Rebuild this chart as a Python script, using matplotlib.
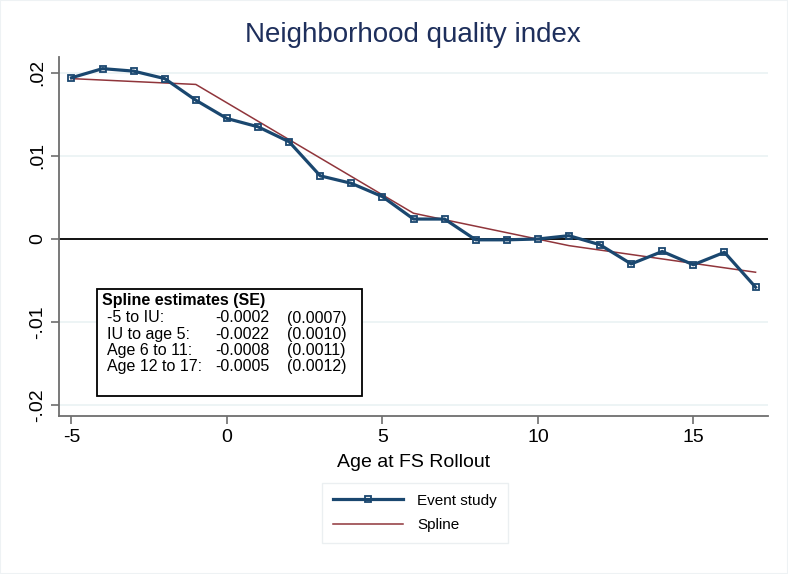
import matplotlib
matplotlib.use("Agg")
import matplotlib.pyplot as plt
from matplotlib.patches import Rectangle

ages = list(range(-5, 18))
event_study = [0.0194, 0.0205, 0.0202, 0.0193, 0.0167, 0.0145, 0.0135, 0.0117,
               0.0076, 0.0067, 0.0051, 0.0024, 0.0024, -0.0001, -0.0001, 0.0000,
               0.0004, -0.0007, -0.0030, -0.0015, -0.0031, -0.0016, -0.0058]
spline_x = [-5, -1, 6, 11, 17]
spline_y = [0.0193, 0.0186, 0.0031, -0.0008, -0.0040]

x_ticks = [-5, 0, 5, 10, 15]
y_ticks = [-0.02, -0.01, 0, 0.01, 0.02]
y_labels = ["-.02", "-.01", "0", ".01", ".02"]

box_title = "Spline estimates (SE)"
box_rows = [("-5 to IU:", "-0.0002", "(0.0007)"),
            ("IU to age 5:", "-0.0022", "(0.0010)"),
            ("Age 6 to 11:", "-0.0008", "(0.0011)"),
            ("Age 12 to 17:", "-0.0005", "(0.0012)")]

W, H = 788, 574
navy = "#1a476f"
maroon = "#90353b"
axis_grey = "#6e6e6e"

plt.rcParams['font.family'] = ['Liberation Sans', 'DejaVu Sans']
plt.rcParams['axes.unicode_minus'] = False
fig = plt.figure(figsize=(W / 100, H / 100), dpi=100)
ax = fig.add_axes([59 / W, 1 - 416 / H, (768 - 59) / W, (416 - 57) / H])

for yv in y_ticks:
    ax.axhline(yv, color="#eaf2f3", lw=1.2, zorder=0)
ax.axhline(0, color="black", lw=1.3, zorder=1)

ax.plot(spline_x, spline_y, color=maroon, lw=1.1, zorder=2, label="Spline")
ax.plot(ages, event_study, color=navy, lw=2.3, marker="s", ms=5,
        mfc="none", mec=navy, mew=1.3, zorder=3, label="Event study")

ax.set_xlim(-5.4, 17.4)
ax.set_ylim(-0.0213, 0.0219)
ax.set_xticks(x_ticks)
ax.set_yticks(y_ticks)
ax.set_yticklabels(y_labels, rotation=90, va="center")
ax.tick_params(axis="both", labelsize=14, length=6, color=axis_grey, width=1.2)
ax.tick_params(axis="y", pad=3)
ax.tick_params(axis="x", pad=3)
for side in ["top", "right"]:
    ax.spines[side].set_visible(False)
for side in ["left", "bottom"]:
    ax.spines[side].set_color(axis_grey)
    ax.spines[side].set_linewidth(1.3)

ax.set_xlabel("Age at FS Rollout", fontsize=14, labelpad=6)
fig.text(413 / W, 1 - 35 / H, "Neighborhood quality index", fontsize=20,
         color="#1e2f5c", ha="center", va="center")

# estimates box
ax.add_patch(Rectangle((97 / W, 1 - 396 / H), (362 - 97) / W, (396 - 289) / H,
                       transform=fig.transFigure, fill=True, fc="white",
                       ec="black", lw=1.3, zorder=5))
fig.text(102 / W, 1 - 300 / H, box_title, fontsize=11.5, fontweight="bold",
         va="center", zorder=6)
for i, (lab, est, se) in enumerate(box_rows):
    yy = 1 - (318 + 16.2 * i) / H
    fig.text(107 / W, yy, lab, fontsize=11.5, va="center", zorder=6)
    fig.text(215 / W, yy, est, fontsize=11.5, va="center", zorder=6)
    fig.text(287 / W, yy, se, fontsize=11.5, va="center", zorder=6)

handles, labels = ax.get_legend_handles_labels()
leg = fig.legend(handles[::-1], labels[::-1], loc="center",
                 bbox_to_anchor=(415 / W, 1 - 513 / H), fontsize=11,
                 handlelength=4.6, frameon=True, fancybox=False,
                 borderpad=0.7, labelspacing=0.7, handletextpad=0.9)
leg.get_frame().set_edgecolor("#e6ecee")
leg.get_frame().set_linewidth(1.0)

fig.patches.append(Rectangle((0, 0), 1, 1, transform=fig.transFigure,
                             fill=False, ec="#eef2f4", lw=1.5))

fig.savefig("out.png", dpi=100)
